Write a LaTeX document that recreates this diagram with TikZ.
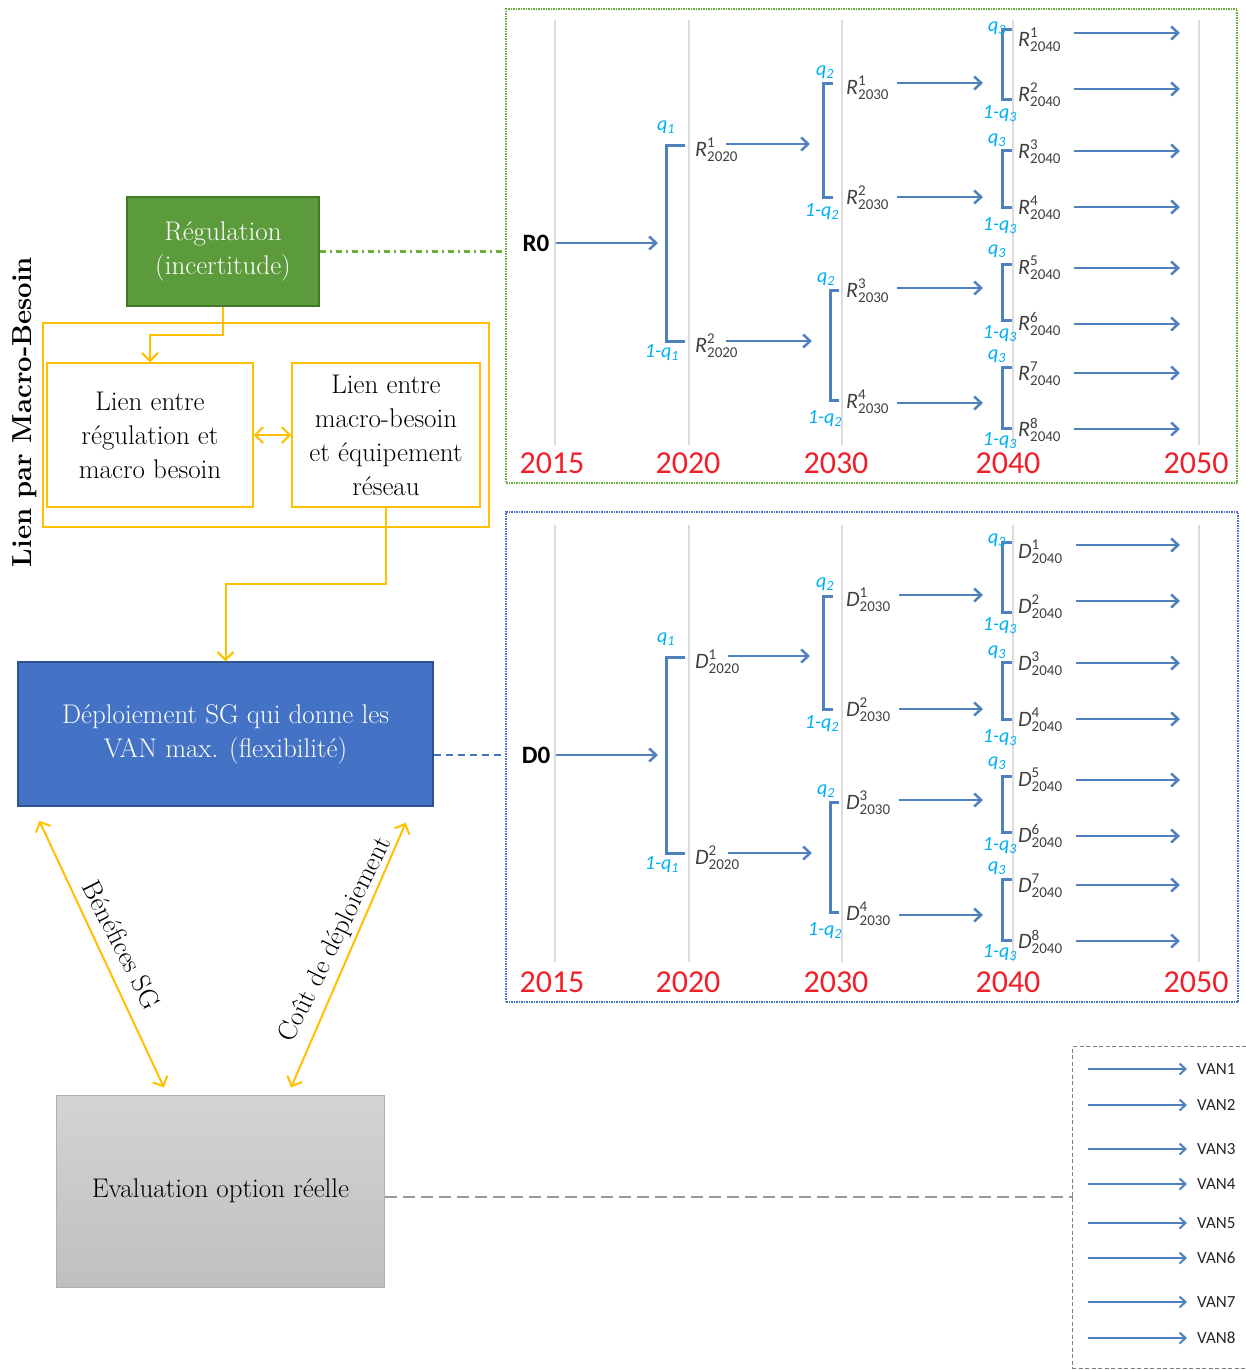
\documentclass[tikz,border=0pt]{standalone}
\usepackage{fontspec}
\newfontfamily\carlito{Carlito}
\usetikzlibrary{arrows.meta}
\definecolor{treeblue}{HTML}{4F81BD}
\definecolor{qcyan}{HTML}{00B0F0}
\definecolor{yel}{HTML}{FFC000}
\definecolor{regfill}{HTML}{5B9B3B}
\definecolor{regdraw}{HTML}{42782A}
\definecolor{depfill}{HTML}{4472C4}
\definecolor{depdraw}{HTML}{2F528F}
\definecolor{gridgray}{HTML}{DCDCDC}
\definecolor{labgray}{HTML}{404040}
\definecolor{yearred}{HTML}{F0202A}
\definecolor{rgreen}{HTML}{6AAE3E}
\definecolor{evaldraw}{HTML}{B0B0B0}
\definecolor{vangray}{HTML}{7F7F7F}

\newcommand\tlab[3]{$\mbox{\carlito\itshape #1}^{\mbox{\carlito\fontsize{15}{15}\selectfont #2}}_{\mbox{\carlito\fontsize{15}{15}\selectfont #3}}$}

\tikzset{
  arr/.style={treeblue, line width=2.5pt, -{Straight Barb[length=7pt,width=13pt]}},
  varr/.style={treeblue, line width=2pt, -{Straight Barb[length=6pt,width=11pt]}},
  brk/.style={treeblue, line width=3pt},
  tl/.style={font=\carlito\fontsize{22}{22}\selectfont, text=labgray, inner sep=0pt},
  ql/.style={font=\carlito\itshape\fontsize{20}{20}\selectfont, text=qcyan, inner sep=0pt},
  yr/.style={font=\carlito\fontsize{32}{32}\selectfont, text=yearred, inner sep=0pt},
  rootl/.style={font=\carlito\bfseries\fontsize{25}{25}\selectfont, inner sep=0pt},
  gridln/.style={gridgray, line width=1.5pt},
  serif/.style={font=\fontsize{27}{34}\selectfont, align=center},
  ybox/.style={draw=yel, line width=1.5pt, inner sep=0pt},
  yarr/.style={yel, line width=2pt, -{Straight Barb[length=8pt,width=16pt]}},
  ydarr/.style={yel, line width=2pt, {Straight Barb[length=8pt,width=16pt]}-{Straight Barb[length=8pt,width=16pt]}},
  vanl/.style={font=\carlito\fontsize{17}{17}\selectfont, text=black!85, inner sep=0pt},
}

\newcommand\drawtree[2]{%
\begin{scope}[shift={(0,#2)}]
\node[rootl] (#1-0) at (536,243) {#10};
\coordinate (#1-t0) at (658,243);
\draw[arr] (#1-0.east) ++(6,0) -- (#1-t0);
% level 1
\draw[brk] (685,145) -- (666,145) -- (666,341) -- (685,341);
\node[ql] (#1-q1a) at (666,127) {q\textsubscript{1}};
\node[ql] (#1-q1b) at (662,353) {1-q\textsubscript{1}};
\node[tl,anchor=west] (#1-a1) at (695,150) {\tlab{#1}{1}{2020}};
\node[tl,anchor=west] (#1-a2) at (695,346) {\tlab{#1}{2}{2020}};
\coordinate (#1-t1) at (810,144);
\coordinate (#1-t2) at (812,341);
\draw[arr] (#1-a1.east |- #1-t1) ++(-12,0) -- (#1-t1);
\draw[arr] (#1-a2.east |- #1-t2) ++(-12,0) -- (#1-t2);
% level 2
\draw[brk] (833,84) -- (823,84) -- (823,197) -- (833,197);
\draw[brk] (839,290) -- (830,290) -- (830,400) -- (839,400);
\node[ql] (#1-q2a) at (825,72) {q\textsubscript{2}};
\node[ql] (#1-q2b) at (822,212) {1-q\textsubscript{2}};
\node[ql] (#1-q2c) at (826,279) {q\textsubscript{2}};
\node[ql] (#1-q2d) at (825,419) {1-q\textsubscript{2}};
\foreach \k/\yl/\ya in {1/88/83,2/198/197,3/291/288,4/402/403}{
  \node[tl,anchor=west] (#1-c\k) at (846,\yl) {\tlab{#1}{\k}{2030}};
  \coordinate (#1-u\k) at (983,\ya);
  \draw[arr] (#1-c\k.east |- #1-u\k) ++(8,0) -- (#1-u\k);
}
% level 3
\foreach \ya/\yb in {30/100,150/207,264/320,367/428}{
  \draw[brk] (1012,\ya) -- (1002,\ya) -- (1002,\yb) -- (1012,\yb);
}
\foreach \k/\yq/\yp in {1/28/114,2/140/226,3/251/334,4/356/441}{
  \node[ql] (#1-q3a\k) at (997,\yq) {q\textsubscript{3}};
  \node[ql] (#1-q3b\k) at (1000,\yp) {1-q\textsubscript{3}};
}
\foreach \k/\yl/\ya in {1/40/33,2/95/89,3/152/151,4/208/207,5/268/268,6/324/324,7/374/373,8/430/429}{
  \node[tl,anchor=west] (#1-d\k) at (1018,\yl) {\tlab{#1}{\k}{2040}};
  \coordinate (#1-e\k) at (1180,\ya);
  \draw[arr] (#1-d\k.east |- #1-e\k) ++(13,0) -- (#1-e\k);
}
\end{scope}}

\begin{document}
\begin{tikzpicture}[x=1pt,y=-1pt]
\useasboundingbox (0,0) rectangle (1246,1370);

% ---------- tree frames ----------
\node[draw=rgreen, line width=2.5pt, dash pattern=on 1.5pt off 1pt, minimum width=731pt, minimum height=474pt, inner sep=0pt] (Rbox) at (871.5,246) {};
\node[draw=depfill, line width=2.5pt, dash pattern=on 1.5pt off 1pt, minimum width=732pt, minimum height=490pt, inner sep=0pt] (Dbox) at (872,757) {};

% grid lines and years
\foreach \x/\yr/\xl in {555/2015/552,689/2020/688,842/2030/836,1013/2040/1008,1199/2050/1196}{
  \draw[gridln] (\x,20) -- (\x,445);
  \draw[gridln] (\x,525) -- (\x,962);
  \node[yr] (yR\yr) at (\xl,463) {\yr};
  \node[yr] (yD\yr) at (\xl,982) {\yr};
}

\drawtree{R}{0}
\drawtree{D}{512}

% ---------- left column ----------
\node[rotate=90, font=\bfseries\fontsize{27.5}{27.5}\selectfont, inner sep=0pt] (lienpar) at (25,412) {Lien par Macro-Besoin};

\node[serif, draw=regdraw, fill=regfill, line width=1.5pt, text=white, minimum width=192pt, minimum height=109pt] (reg) at (223,251.5) {Régulation\\(incertitude)};

\node[ybox, minimum width=446pt, minimum height=204pt] (yb) at (266,425) {};
\node[ybox, serif, minimum width=206pt, minimum height=144pt] (lb) at (150,435) {Lien entre\\régulation et\\macro besoin};
\node[ybox, serif, minimum width=188pt, minimum height=144pt] (rb) at (386,435) {Lien entre\\macro-besoin\\et équipement\\réseau};

\node[serif, draw=depdraw, fill=depfill, line width=1.5pt, text=white, minimum width=415pt, minimum height=144pt] (dep) at (225.5,734) {Déploiement SG qui donne les\\VAN max. (flexibilité)};

\node[serif, draw=evaldraw, top color=black!17, bottom color=black!25, line width=1pt, minimum width=328pt, minimum height=192pt] (eval) at (220.5,1191) {Evaluation option réelle};

% VAN box (open on the right)
\node[minimum width=173pt, minimum height=321pt, inner sep=0pt] (vanbox) at (1159.5,1207.5) {};
\draw[vangray, line width=1.2pt, dash pattern=on 4pt off 2.5pt] (vanbox.north east) -- (vanbox.north west) -- (vanbox.south west) -- (vanbox.south east);
\foreach \k/\y in {1/1069,2/1105,3/1149,4/1184,5/1223,6/1258,7/1302,8/1338}{
  \coordinate (vs\k) at (1088,\y);
  \node[vanl,anchor=west] (van\k) at (1197,\y) {VAN\k};
  \draw[varr, shorten >=10pt] (vs\k) -- (van\k.west);
}

% ---------- connectors ----------
\draw[draw=rgreen, line width=2.2pt, dash pattern=on 6pt off 4pt on 2pt off 4pt] (reg.east) -- (reg.east -| Rbox.west);
\draw[draw=depfill, line width=2pt, dash pattern=on 7pt off 5pt] (dep.east |- D-0) -- (Dbox.west |- D-0);
\draw[black!40, line width=2.2pt, dash pattern=on 12pt off 6pt] (eval.east |- 0,1197) -- (vanbox.west |- 0,1197);

\draw[yarr] (reg.south) -- ++(0,28) -| (lb.north);
\draw[ydarr] (lb.east) -- (rb.west);
\draw[yarr] (rb.south) -- ++(0,76) -| (dep.north);

\draw[ydarr] ([shift={(22,14)}]dep.south west) -- ([shift={(108,-7)}]eval.north west);
\draw[ydarr] ([shift={(-28,16)}]dep.south east) -- ([shift={(235,-7)}]eval.north west);
\node[font=\fontsize{27}{27}\selectfont, rotate=-63, inner sep=0pt] (benef) at (122,945) {Bénéfices SG};
\node[font=\fontsize{27}{27}\selectfont, rotate=64, inner sep=0pt] (cout) at (336,940) {Coût de déploiement};
\end{tikzpicture}
\end{document}
